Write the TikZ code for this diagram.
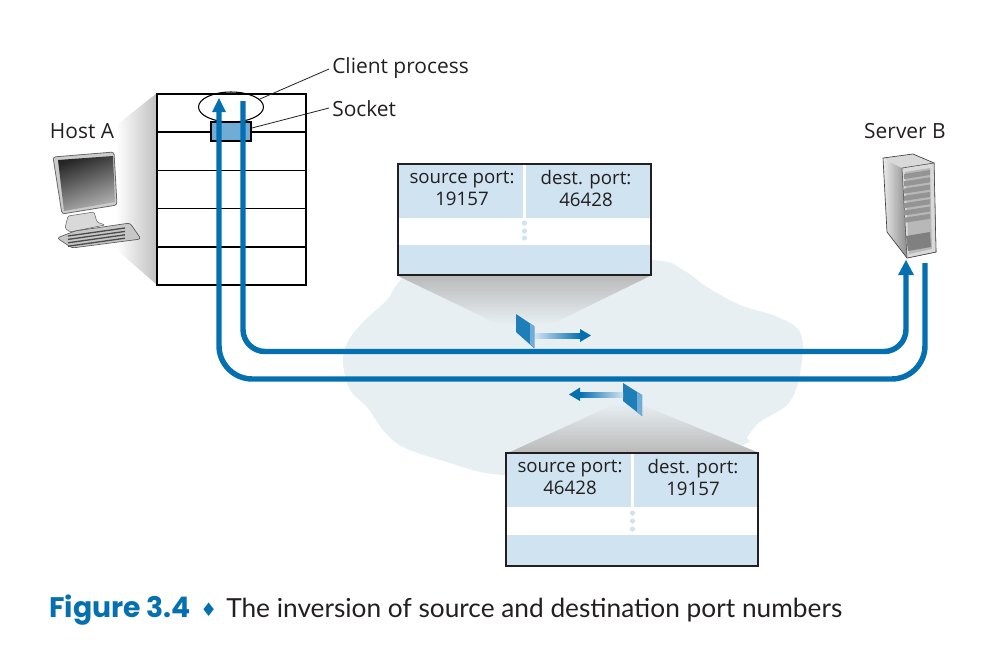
\documentclass[tikz,border=0pt]{standalone}
\usepackage{fontspec}
\setmainfont{Open Sans}
\newfontfamily\capfont{Lato}
\newfontfamily\figfont{Poppins}
\newfontfamily\symfont{DejaVu Sans}
\usetikzlibrary{positioning,shapes.geometric,arrows.meta}
\definecolor{pipeblue}{RGB}{5,112,176}
\definecolor{paleblue}{RGB}{208,227,241}
\definecolor{cloudgray}{RGB}{232,239,243}
\definecolor{sockblue}{RGB}{112,172,214}
\definecolor{textblack}{RGB}{35,31,32}
\tikzset{
  label/.style={text=textblack, font=\fontsize{15.7}{18}\selectfont, inner sep=0pt},
  portlabel/.style={text=textblack, font=\fontsize{14}{16.5}\selectfont, align=center, inner sep=0pt},
  band/.style={fill=paleblue, draw=none, minimum width=252*0.75pt, outer sep=0pt, inner sep=0pt, anchor=north west},
  stackrow/.style={draw=black, line width=1.1pt, minimum width=149*0.75pt, minimum height=38.2*0.75pt, inner sep=0pt, outer sep=0pt, anchor=north west},
  pipe/.style={draw=pipeblue, line width=4.1pt},
  pointer/.style={draw=textblack, line width=0.6pt},
}
\begin{document}
\begin{tikzpicture}[x=0.75pt,y=-0.75pt]
\useasboundingbox (0,0) rectangle (1001,647);
%Cloud
\fill[cloudgray] plot[smooth cycle, tension=0.55] coordinates {(398,283) (387,300) (363,322) (347,343) (343,363) (350,390) (367,407) (383,430) (403,447) (447,462) (505,475) (640,470) (742,445) (747,437) (760,422) (787,405) (798,383) (803,347) (797,328) (773,315) (740,305) (707,287) (683,270) (652,260) (520,262) (420,270)};
%Cones
\shade[left color=white, right color=black!25] (118,124) -- (157,93) -- (157,285) -- (116,249) -- cycle;
\shade[top color=black!27, bottom color=cloudgray] (398,276) -- (650,276) -- (550,325) -- (500,325) -- cycle;
\shade[top color=cloudgray, bottom color=black!27] (617,403) -- (642,405) -- (757,452) -- (510,452) -- cycle;
%Host A stack
\node[stackrow] (row1) at (157,94) {};
\node[stackrow, below=0pt of row1] (row2) {};
\node[stackrow, below=0pt of row2] (row3) {};
\node[stackrow, below=0pt of row3] (row4) {};
\node[stackrow, below=0pt of row4] (row5) {};
\node[draw=black, fill=sockblue, line width=1.1pt, minimum width=40*0.75pt, minimum height=19*0.75pt, inner sep=0pt] (sock) at (231,131.5) {};
\node[ellipse, draw=black, line width=0.8pt, minimum width=65*0.75pt, minimum height=30*0.75pt, inner sep=0pt] (proc) at (231,107) {};
%Labels
\node[label, anchor=west] (client) at (332,68) {Client process};
\node[label, anchor=west] (socket) at (332,108.5) {Socket};
\node[label] (hosta) at (82,131.5) {Host A};
\node[label] (serverb) at (905,131.5) {Server B};
\coordinate (clienttip) at (329,69);
\coordinate (sockettip) at (329,108);
\draw[pointer] (clienttip) -- (260,99);
\draw[pointer] (sockettip) -- (252,128);
%Computer
\begin{scope}
\fill[black!20, draw=black!60, line width=0.6pt, rounded corners=2pt] (53,157) -- (114,152) -- (117,205) -- (62,214) -- cycle;
\shade[left color=black!85, right color=black!30, shading angle=20] (58,160) -- (113,156) -- (115,202) -- (64,211) -- cycle;
\fill[black!15, draw=black!60, line width=0.4pt, rounded corners=1pt] (68,216) -- (94,212) -- (97,222) -- (105,225) -- (70,232) -- (65,228) -- cycle;
\fill[black!22, draw=black!65, line width=0.5pt, rounded corners=2pt] (57,238) -- (75,231) -- (130,223) -- (141,239) -- (72,248) -- cycle;
\foreach \j in {0,1,2,3} \draw[black!70, line width=1pt] (68,{236+\j*3.4}) -- (125,{228+\j*3.4});
\end{scope}
%Server
\begin{scope}
\shade[left color=black!8, right color=black!45] (883,158) -- (902,168) -- (907,258) -- (887,232) -- cycle;
\fill[black!15] (883,158) -- (913,154) -- (934,163) -- (902,168) -- cycle;
\draw[black!75, line width=0.5pt] (883,158) -- (913,154) -- (934,163) -- (936,252) -- (907,258) -- (887,232) -- cycle;
\fill[black!15, draw=black!75, line width=0.4pt] (902,168) -- (934,163) -- (936,252) -- (907,258) -- cycle;
\fill[black!28] (905,172) -- (930,168) -- (932,249) -- (909,254) -- cycle;
\foreach \j in {0,...,6} \fill[black!42] (904,{174+\j*7.3}) -- (930,{170+\j*7.3}) -- (930,{175+\j*7.3}) -- (904,{179+\j*7.3}) -- cycle;
\fill[black!50] (906,236) -- (930,232) -- (931,247) -- (908,251) -- cycle;
\end{scope}
%Pipes
\coordinate (hostin) at (219,112);
\coordinate (hostout) at (243,101);
\coordinate (servin) at (906,275);
\coordinate (servout) at (925,263);
\draw[pipe, rounded corners=16.5pt] (hostout) -- (243,351.5) -- (906,351.5) -- (servin);
\draw[pipe, rounded corners=25pt] (servout) -- (925,379) -- (219,379) -- (hostin);
\fill[pipeblue] (219,98) -- (226,112) -- (212,112) -- cycle;
\fill[pipeblue] (906,260) -- (914,275) -- (898,275) -- cycle;
%Segment one
\node[band, minimum height=54*0.75pt] (seg1top) at (398,164) {};
\node[band, minimum height=30*0.75pt] (seg1low) at (398,245) {};
\fill[white] (522.5,164) rectangle (525.5,218);
\foreach \j in {223,231,238} \fill[paleblue] (524.5,\j) circle (2.6);
\node[draw=textblack, line width=0.9pt, minimum width=253*0.75pt, minimum height=111*0.75pt, inner sep=0pt, outer sep=0pt, anchor=north west] (seg1) at (398,164) {};
\node[portlabel] (seg1src) at (462,188) {source port:\\19157};
\node[portlabel] (seg1dst) at (586,188) {dest. port:\\46428};
%Segment two
\node[band, minimum height=54*0.75pt] (seg2top) at (506,453) {};
\node[band, minimum height=31*0.75pt] (seg2low) at (506,535) {};
\fill[white] (631,453) rectangle (634,507);
\foreach \j in {513,521,529} \fill[paleblue] (632.5,\j) circle (2.6);
\node[draw=textblack, line width=0.9pt, minimum width=252*0.75pt, minimum height=113*0.75pt, inner sep=0pt, outer sep=0pt, anchor=north west] (seg2) at (506,453) {};
\node[portlabel] (seg2src) at (570,477) {source port:\\46428};
\node[portlabel] (seg2dst) at (693,477) {dest. port:\\19157};
%Packets
\fill[pipeblue!90!white] (516,314) -- (534,326) -- (534,348) -- (516,332) -- cycle;
\fill[sockblue] (530,323.5) -- (534.5,326) -- (534.5,348) -- (530,344) -- cycle;
\shade[left color=paleblue, right color=pipeblue] (535,333) rectangle (580,338);
\fill[pipeblue] (580,329) -- (591,335.5) -- (580,342) -- cycle;
\fill[pipeblue!90!white] (623,383) -- (642,395) -- (642,416) -- (623,401) -- cycle;
\fill[sockblue] (637,392) -- (642,395) -- (642,416) -- (637,412) -- cycle;
\shade[left color=pipeblue, right color=paleblue] (580,392) rectangle (623,397);
\fill[pipeblue] (569,394.5) -- (580,387.5) -- (580,401) -- cycle;
%Caption
\node[anchor=base west, inner sep=0pt, text=pipeblue, font=\figfont\bfseries\fontsize{21.2}{24}\selectfont] (figlabel) at (49,617) {Figure 3.4};
\node[anchor=base west, inner sep=0pt, text=pipeblue, font=\symfont\fontsize{14}{14}\selectfont] (figdiamond) at (200,616) {♦};
\node[anchor=base west, inner sep=0pt, text=textblack, font=\capfont\fontsize{19.7}{24}\selectfont] (figtext) at (226,617) {The inversion of source and destination port numbers};
\end{tikzpicture}
\end{document}
